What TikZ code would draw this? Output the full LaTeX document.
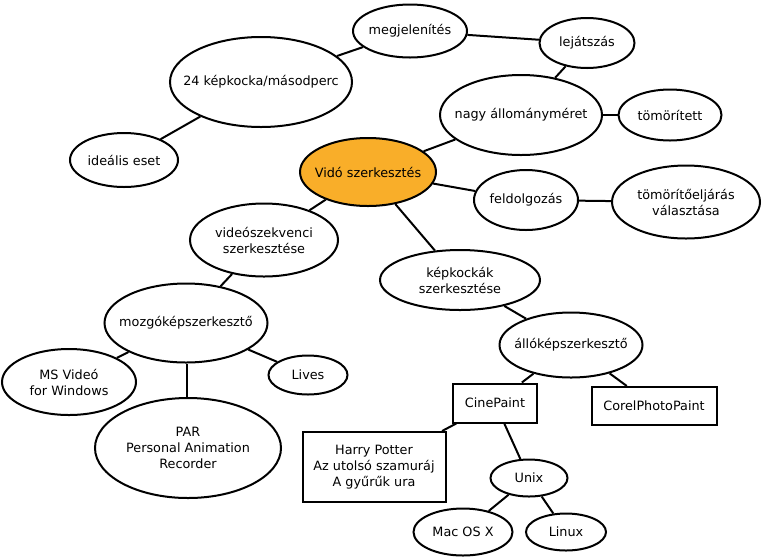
\documentclass[tikz,border=0pt]{standalone}
\usepackage{fontspec}
\setmainfont{DejaVu Sans}
\usetikzlibrary{shapes.geometric}
\definecolor{hub}{RGB}{249,174,41}
\tikzset{
  lab/.style={inner sep=0pt,align=center,font=\fontsize{12.8}{16}\selectfont},
  el/.style={ellipse,draw=black,line width=2pt,inner sep=0pt},
  bx/.style={rectangle,draw=black,line width=2pt,inner sep=0pt},
  ln/.style={line width=2pt,black}
}
\begin{document}
\begin{tikzpicture}[x=1pt,y=-1pt]
\useasboundingbox (0,0) rectangle (762,558);
\node[el,minimum width=114pt,minimum height=53pt,label={[lab]center:megjelenítés}] (meg) at (410,31) {};
\node[el,minimum width=95pt,minimum height=50pt,label={[lab]center:lejátszás}] (lej) at (587,43) {};
\node[el,minimum width=182pt,minimum height=90pt,label={[lab]center:24 képkocka/másodperc}] (kep24) at (261,82) {};
\node[el,minimum width=108pt,minimum height=54pt,label={[lab]center:ideális eset}] (ide) at (124,160) {};
\node[el,minimum width=162pt,minimum height=80pt,label={[lab]center:nagy állományméret}] (nagy) at (521,115) {};
\node[el,minimum width=103pt,minimum height=51pt,label={[lab]center:tömörített}] (tom) at (670,115) {};
\node[el,fill=hub,minimum width=136pt,minimum height=68pt,label={[lab]center:Vidó szerkesztés}] (vido) at (368,172) {};
\node[el,minimum width=104pt,minimum height=60pt,label={[lab]center:feldolgozás}] (feld) at (526,200) {};
\node[el,minimum width=148pt,minimum height=73pt,label={[lab]center:tömörítőeljárás\\választása}] (tomel) at (686,202) {};
\node[el,minimum width=160pt,minimum height=60pt,label={[lab]center:képkockák\\szerkesztése}] (kepk) at (460,280) {};
\node[el,minimum width=148pt,minimum height=73pt,label={[lab]center:videószekvenci\\szerkesztése}] (vsz) at (264,240) {};
\node[el,minimum width=163pt,minimum height=79pt,label={[lab]center:mozgóképszerkesztő}] (mozg) at (186,323) {};
\node[el,minimum width=134pt,minimum height=66pt,label={[lab]center:MS Videó\\for Windows}] (ms) at (69,382) {};
\node[el,minimum width=79pt,minimum height=39pt,label={[lab]center:Lives}] (lives) at (308,375) {};
\node[el,minimum width=186pt,minimum height=100pt,label={[lab]center:PAR\\Personal Animation\\Recorder}] (par) at (188,448) {};
\node[bx,minimum width=143pt,minimum height=70pt,label={[lab]center:Harry Potter\\Az utolsó szamuráj\\A gyűrűk ura}] (harry) at (374,467) {};
\node[el,minimum width=143pt,minimum height=65pt,label={[lab]center:állóképszerkesztő}] (allo) at (571,345) {};
\node[bx,minimum width=84pt,minimum height=39pt,label={[lab]center:CinePaint}] (cine) at (495,403) {};
\node[bx,minimum width=125pt,minimum height=38pt,label={[lab]center:CorelPhotoPaint}] (corel) at (654,406) {};
\node[el,minimum width=77pt,minimum height=37pt,label={[lab]center:Unix}] (unix) at (529,478) {};
\node[el,minimum width=99pt,minimum height=47pt,label={[lab]center:Mac OS X}] (mac) at (463,532) {};
\node[el,minimum width=80pt,minimum height=37pt,label={[lab]center:Linux}] (linux) at (566,532) {};
\draw[ln] (meg) -- (kep24);
\draw[ln] (meg) -- (lej);
\draw[ln] (lej) -- (nagy);
\draw[ln] (nagy) -- (tom);
\draw[ln] (nagy) -- (vido);
\draw[ln] (kep24) -- (ide);
\draw[ln] (vido) -- (feld);
\draw[ln] (feld) -- (tomel);
\draw[ln] (vido) -- (kepk);
\draw[ln] (vido) -- (vsz);
\draw[ln] (vsz) -- (mozg);
\draw[ln] (mozg) -- (ms);
\draw[ln] (mozg) -- (lives);
\draw[ln] ([xshift=1pt]mozg.south) -- ([xshift=1pt]mozg.south |- par.north);
\draw[ln] (kepk) -- (allo);
\draw[ln] (allo) -- (cine);
\draw[ln] (allo) -- (corel);
\draw[ln] (cine) -- (harry);
\draw[ln] (cine) -- (unix);
\draw[ln] (unix) -- (mac);
\draw[ln] (unix) -- (linux);
\end{tikzpicture}
\end{document}
